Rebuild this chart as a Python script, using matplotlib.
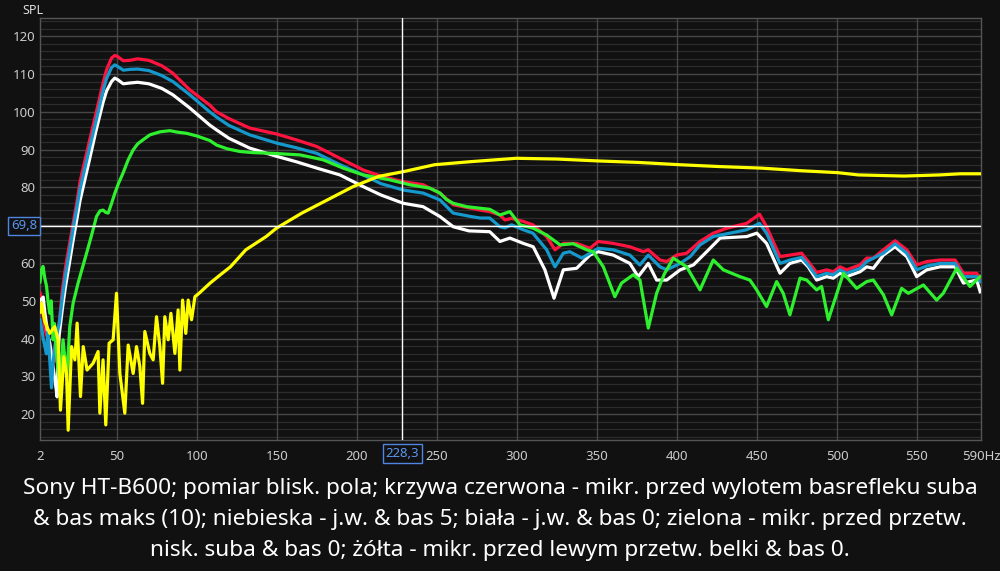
import matplotlib
matplotlib.use("Agg")
import matplotlib.pyplot as plt
import numpy as np

# ---------------- data ----------------
red_f = [2, 3, 4, 5, 6, 7, 8, 9, 10, 11, 12, 13, 14, 16, 18, 20, 22.7, 25, 27, 30, 33, 37, 41.4, 43.6, 46.7, 48.7, 50.5, 54, 58, 63, 70, 78, 85, 95.6, 108, 112.3, 120, 133, 150, 162, 175, 189.4, 204, 215, 229, 241.4, 251.9, 260.2, 270, 277, 283, 289.4, 292.5, 296.7, 304, 310, 318.6, 323.8, 329, 337.3, 345.6, 350.8, 360.2, 370.6, 379, 382.1, 389.4, 393.6, 399.8, 406.1, 414.4, 422.7, 431.1, 443.6, 451.6, 456, 464.4, 470.6, 477.9, 482, 487.3, 493.5, 497.7, 501.9, 506, 514.4, 518.6, 522.7, 529, 536.3, 543.6, 549.8, 556.1, 564.4, 573.8, 579, 587.3, 589.5]
red_db = [52, 50, 46, 43, 41, 40, 39, 37, 35, 34, 36, 40, 44, 53, 59, 64, 70.5, 76, 81.5, 87, 92.5, 99.6, 107.6, 111.1, 114.2, 114.9, 114.6, 113.5, 113.6, 114, 113.6, 112.2, 110.2, 105.8, 101.8, 100, 98.2, 95.7, 94.1, 92.6, 90.8, 87.7, 84.6, 83, 81.5, 80.7, 78.5, 75.4, 74.6, 74.0, 73.6, 72.7, 71.4, 71.8, 71.0, 70.1, 67.0, 63.5, 65.2, 65.2, 63.9, 65.7, 65.2, 64.3, 63.0, 63.5, 60.8, 60.4, 62.1, 62.6, 65.7, 67.9, 69.2, 70.5, 72.9, 69.6, 61.7, 62.1, 62.6, 60.4, 57.5, 58.2, 57.7, 59.0, 58.2, 59.5, 61.3, 61.3, 63.5, 65.9, 63.5, 59.5, 60.4, 60.8, 60.8, 57.3, 57.3, 56.0]

blue_f = [2, 3, 4, 5, 6, 7, 8, 9.2, 10, 11, 12, 13, 14, 16, 18, 20, 22.7, 25, 27, 30, 33, 37, 41.4, 43.6, 46.7, 48.7, 50.5, 54, 58, 63, 70, 78, 85, 95.6, 108, 112.3, 120, 133, 150, 162, 175, 189.4, 204, 215, 229, 241.4, 251.9, 260.2, 270, 277, 283, 289.4, 292.5, 296.7, 304, 310, 318.6, 323.8, 329, 333, 340.6, 350.8, 360.2, 370.6, 376.8, 382.1, 389.4, 393.6, 402, 408.3, 414.4, 422.7, 443.6, 451.6, 456, 464.4, 470.6, 477.9, 482, 487.3, 493.5, 497.7, 501.9, 506, 514.4, 518.6, 529, 536.3, 543.6, 549.8, 556.1, 564.4, 573.8, 579, 587.3, 589.5]
blue_db = [45, 43, 40, 38, 36, 42, 35, 27, 33, 37, 40, 42, 44, 51, 57, 62, 69, 74.5, 79.5, 85, 90.5, 97.5, 105.5, 108.8, 111.7, 112.4, 112, 111, 111.2, 111.3, 110.9, 109.6, 108, 104.5, 100, 98.6, 96.4, 93.9, 91.7, 90.5, 89.0, 86.0, 83.3, 81, 79.3, 78.5, 76.7, 73.2, 72.4, 71.9, 71.9, 69.6, 69.3, 70.1, 68.8, 67.9, 63.5, 59.0, 62.6, 63.0, 61.3, 63.9, 63.5, 62.1, 59.5, 62.1, 59.0, 58.2, 59.9, 61.7, 64.8, 67.0, 68.8, 70.5, 67.9, 59.9, 60.8, 61.5, 59.5, 56.4, 57.3, 56.9, 58.2, 57.3, 58.6, 60.4, 62.6, 65.1, 62.6, 58.2, 59.2, 59.9, 59.9, 56.4, 56.4, 55.1]

white_f = [2, 3, 4, 5, 6, 7, 8, 9, 10, 11, 12, 12.7, 13.3, 14, 16, 18, 20, 22.7, 25, 27, 30, 33, 37, 41.4, 43.6, 46.7, 48.7, 50.5, 54, 58, 63, 70, 78, 85, 95.6, 108, 112.3, 120, 133, 150, 162, 175, 189.4, 204, 215, 229, 241.4, 251.9, 260.2, 270, 283, 285.2, 289.4, 295.6, 304, 310.2, 317.5, 323.2, 329, 337.3, 345.6, 350.8, 360.2, 370.6, 375.8, 382.1, 387.3, 393.6, 402, 410.3, 418.6, 427, 443.6, 449.9, 456, 464.4, 470.6, 477.9, 482, 487.3, 493.5, 497.7, 501.9, 506, 514.4, 518.6, 522.7, 529, 536.3, 543.6, 549.8, 556.1, 564.4, 573.8, 579, 587.3, 589.5]
white_db = [50, 50.5, 51, 47, 44, 41, 39, 36, 33, 30, 27, 24.6, 35, 41, 48, 54, 59, 66, 71.5, 76.5, 82, 87.5, 95, 102.5, 105.5, 108, 108.9, 108.5, 107.4, 107.6, 107.8, 107.4, 106.2, 104.5, 101, 96.5, 95.2, 93, 90.4, 88.2, 86.8, 85.1, 83.3, 80.2, 78, 75.8, 74.9, 72.3, 69.6, 68.5, 68.3, 67.4, 65.7, 66.6, 65.2, 64.3, 58.2, 50.7, 58.2, 58.6, 62.1, 63.0, 62.1, 59.9, 56.4, 59.9, 55.5, 55.5, 58.2, 59.5, 63.0, 66.6, 67.0, 67.9, 65.2, 57.3, 59.9, 60.8, 59.0, 55.5, 56.4, 56.0, 57.3, 56.4, 57.7, 59.0, 58.6, 62.1, 64.3, 61.7, 56.4, 58.2, 59.0, 59.0, 54.7, 55.5, 52.4]

green_f = [2, 2.9, 3.9, 5, 6.1, 7, 8.1, 9, 10.2, 11, 12.3, 13, 14.4, 15.5, 16.4, 17.5, 18.6, 19.5, 20.6, 22.7, 25.8, 28, 31.1, 34, 37.3, 39.5, 41.4, 43, 44.6, 46.5, 48.8, 51, 53.9, 57, 60.2, 63, 66.4, 70.7, 77, 83.1, 88, 93.6, 100, 108.1, 112.3, 119, 126.9, 135, 147.7, 164.4, 178.9, 191.4, 204, 220.6, 233.1, 245.6, 251.9, 256, 260.2, 268.6, 283.1, 289.4, 295.6, 301.9, 310.2, 318.6, 327, 335.2, 343.6, 347.7, 354, 361.2, 365.4, 372.7, 376.9, 382.1, 387.3, 392, 397.7, 406.1, 414.4, 422.7, 429, 439.4, 445.6, 449.8, 456, 462.3, 466.4, 470.6, 476.9, 481.1, 487.3, 490.4, 494.6, 504, 512.3, 518.6, 522.7, 529, 534.2, 540.4, 544.6, 554, 562.3, 566.4, 574.8, 583.1, 589.4]
green_db = [55, 58.2, 59.1, 56, 53.8, 50, 46.7, 50, 39.7, 44, 36.1, 33, 28.2, 35, 39.7, 35, 29.9, 35, 43.2, 49.4, 54.7, 58, 62.6, 67, 72.3, 73.8, 74.0, 73.4, 73.2, 75.5, 78.5, 81, 83.8, 87.2, 89.9, 91.5, 92.6, 93.9, 94.7, 95.0, 94.6, 94.3, 93.6, 92.4, 91.2, 90.2, 89.5, 89.2, 89.0, 88.6, 87.3, 85.1, 83.3, 82.0, 80.7, 79.8, 78.5, 76.8, 75.8, 74.9, 74.2, 72.7, 73.6, 70.1, 69.2, 67.4, 64.8, 65.1, 63.5, 63.0, 59.0, 51.1, 54.7, 56.9, 55.5, 42.8, 52.0, 57, 61.3, 59.0, 52.9, 60.8, 58.2, 56.4, 55.5, 52.9, 48.5, 55.1, 52.0, 46.3, 56.0, 55.5, 52.9, 53.8, 45.0, 57.3, 53.3, 55.1, 55.5, 51.6, 46.3, 53.3, 52.0, 54.2, 50.2, 52.0, 58.6, 53.8, 56.4]

yellow_f = [2, 2.9, 5, 8.1, 11.2, 13.3, 14.8, 16.9, 18.6, 19.6, 21.7, 23.8, 25.2, 27.3, 29, 31.4, 35.2, 38.3, 39.4, 41.4, 43.1, 45.2, 47.7, 49.8, 51.9, 55, 57.1, 60.2, 62.3, 64.4, 66.1, 67.5, 70.6, 72.7, 74.8, 76.9, 78.6, 80, 82.1, 83.8, 86.3, 88.3, 89.4, 91.1, 93.1, 94.6, 96.7, 98.8, 101.4, 106, 108.3, 115, 121, 130.6, 143.3, 149.7, 165.6, 181.6, 197.6, 213.5, 229.4, 248.6, 270.9, 299.6, 325.1, 350.6, 376.1, 401.6, 427.1, 452.6, 478.1, 500.5, 513.3, 541.9, 564.3, 577, 589.1]
yellow_db = [47, 49.4, 44.5, 41.4, 43.2, 39.7, 21.1, 35.2, 30.8, 15.8, 37.9, 34.4, 44.1, 24.7, 37.9, 31.7, 33.5, 36.6, 20.3, 34.4, 17.2, 38.8, 39.7, 52.0, 30.8, 20.3, 38.3, 30.8, 37.9, 32.6, 22.9, 41.9, 36.1, 34.4, 45.8, 37.9, 28.2, 45.8, 39.7, 46.7, 36.1, 47.6, 31.7, 50.2, 41.4, 50.2, 45.0, 51.1, 52.0, 53.8, 54.7, 57, 59.0, 63.5, 67.0, 69.2, 73.2, 76.7, 80.2, 82.9, 84.2, 86.0, 86.8, 87.7, 87.5, 87.0, 86.6, 86.0, 85.5, 85.1, 84.4, 83.9, 83.3, 83.0, 83.3, 83.6, 83.6]

x_ticks = [2, 50, 100, 150, 200, 250, 300, 350, 400, 450, 500, 550, 590]
x_tick_labels = ["2", "50", "100", "150", "200", "250", "300", "350", "400", "450", "500", "550", "590Hz"]
y_ticks = [20, 30, 40, 50, 60, 80, 90, 100, 110, 120]
cursor_f = 228.3
cursor_db = 69.8

caption = ["Sony HT-B600; pomiar blisk. pola; krzywa czerwona - mikr. przed wylotem basrefleku suba",
           "& bas maks (10); niebieska - j.w. & bas 5; biała - j.w. & bas 0; zielona - mikr. przed przetw.",
           "nisk. suba & bas 0; żółta - mikr. przed lewym przetw. belki & bas 0."]

# ---------------- plot ----------------
BG = "#111111"
plt.rcParams['font.family'] = ['Noto Sans', 'DejaVu Sans']
fig = plt.figure(figsize=(10, 5.71), dpi=100, facecolor=BG)
ax = fig.add_axes([0.040, 0.2294, 0.941, 0.7391], facecolor=BG)

ax.set_xlim(2, 590)
ax.set_ylim(13.2, 124.8)

# grid
for v in np.arange(14, 125, 2):
    if v % 10 != 0:
        ax.axhline(v, color="#2c2c2c", lw=0.9, zorder=0)
for v in range(20, 121, 10):
    ax.axhline(v, color="#474747", lw=1.0, zorder=0)
for v in range(50, 551, 50):
    ax.axvline(v, color="#474747", lw=1.0, zorder=0)

for s in ax.spines.values():
    s.set_color("#555555")
    s.set_linewidth(1.0)

lw = 2.3
ax.plot(white_f, white_db, color="#ffffff", lw=lw, zorder=3)
ax.plot(blue_f, blue_db, color="#1599cc", lw=lw, zorder=4)
ax.plot(red_f, red_db, color="#ff1440", lw=lw, zorder=2.9)
ax.plot(green_f, green_db, color="#2ef02e", lw=lw, zorder=5)
ax.plot(yellow_f, yellow_db, color="#ffff00", lw=lw, zorder=6)

# cursor
ax.axvline(cursor_f, color="white", lw=1.0, zorder=7)
ax.axhline(cursor_db, color="white", lw=1.0, zorder=7)

ax.set_xticks(x_ticks)
ax.set_xticklabels(x_tick_labels)
ax.set_yticks(y_ticks)
ax.set_yticklabels([str(v) for v in y_ticks])
ax.tick_params(axis="both", length=0, colors="#cccccc", labelsize=9.5)
ax.tick_params(axis="x", pad=7)
ax.tick_params(axis="y", pad=3)

box = dict(boxstyle="square,pad=0.2", fc=BG, ec="#4f86e0", lw=1.0)
ax.text(-0.003, cursor_db, str(cursor_db).replace(".", ","), transform=ax.get_yaxis_transform(),
        ha="right", va="center", color="#5a94f0", fontsize=9.5, bbox=box, zorder=10)
ax.text(cursor_f, -0.032, str(cursor_f).replace(".", ","), transform=ax.get_xaxis_transform(),
        ha="center", va="center", color="#5a94f0", fontsize=9.5, bbox=box, zorder=10)

fig.text(0.033, 0.982, "SPL", color="#dddddd", fontsize=9, ha="center", va="center")

ys = [0.144, 0.090, 0.036]
for t, y in zip(caption, ys):
    fig.text(0.5, y, t, color="white", fontsize=16.3, ha="center", va="center")

fig.savefig("out.png", dpi=100, facecolor=BG)
